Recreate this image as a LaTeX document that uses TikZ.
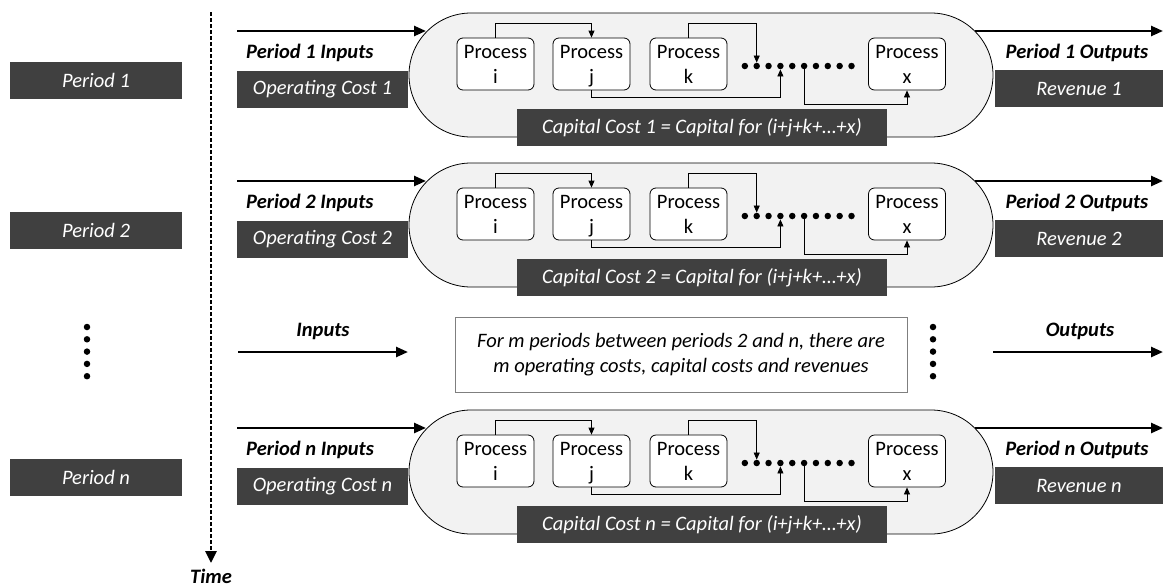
\documentclass[tikz,border=0pt]{standalone}
\usepackage{fontspec}
\setmainfont{Carlito}
\usetikzlibrary{arrows.meta}
\definecolor{boxgrey}{RGB}{64,64,64}
\definecolor{stadgrey}{RGB}{242,242,242}
\definecolor{notegrey}{RGB}{127,127,127}
\newcommand{\prstrut}{\rule[-5pt]{0pt}{23pt}}
\begin{document}
\begin{tikzpicture}[x=1pt, y=-1pt,
  every node/.style={font=\fontsize{20.5}{24}\selectfont},
  greybox/.style={fill=boxgrey, text=white, font=\fontsize{20.5}{24}\selectfont\itshape, minimum height=37pt, inner sep=0pt},
  boldlbl/.style={font=\fontsize{20.5}{24}\selectfont\bfseries\itshape, inner sep=0pt},
  stadium/.style={draw, fill=stadgrey, line width=0.8pt, rounded corners=62pt, minimum width=584pt, minimum height=124pt, inner sep=0pt},
  process/.style={draw, fill=white, line width=0.8pt, rounded corners=6pt, minimum width=77pt, minimum height=52pt, align=center, inner sep=0pt, font=\fontsize{20.5}{25}\selectfont},
  dot/.style={circle, fill, inner sep=0pt, minimum size=6.5pt},
  bigarrow/.style={line width=2.5pt, -{Triangle[length=12pt,width=10pt]}},
  link/.style={line width=0.8pt, -{Triangle[length=7pt,width=6pt]}}]
\useasboundingbox (0,0) rectangle (1163,587);
% time axis
\coordinate (tt) at (211,12);
\coordinate (tb) at (211,563);
\draw[line width=2.8pt, dash pattern=on 3.5pt off 2.5pt, -{Triangle[length=12pt,width=11pt]}] (tt) -- (tb);
\node[boldlbl] (time) at (211,576) {Time};
% one row per period
\foreach \r/\y in {1/0, 2/150, n/397}{
  \node[greybox, minimum width=172pt] (per\r) at (96,80+\y) {Period \r};
  \node[stadium] (st\r) at (701,75+\y) {};
  \coordinate (ia\r) at (237,31+\y);
  \coordinate (ib\r) at (426,31+\y);
  \draw[bigarrow] (ia\r) -- (ib\r);
  \node[boldlbl, anchor=base west] (lin\r) at (246,58+\y) {Period \r{} Inputs};
  \node[greybox, minimum width=171pt] (op\r) at (322.5,89+\y) {Operating Cost \r};
  \node[process] (pi\r) at (495.5,64+\y) {\prstrut Process\\\prstrut i};
  \node[process] (pj\r) at (591.5,64+\y) {\prstrut Process\\\prstrut j};
  \node[process] (pk\r) at (688.5,64+\y) {\prstrut Process\\\prstrut k};
  \node[process] (px\r) at (907,64+\y) {\prstrut Process\\\prstrut x};
  \foreach \k in {1,...,10}
    \node[dot] (d\r-\k) at (733+11.85*\k,66+\y) {};
  \draw[link] (pi\r.north) -- ++(0,-14) -| (pj\r.north);
  \draw[link] (pk\r.north) -- ++(0,-14) -| (d\r-2.north);
  \draw[link] (pj\r.south) -- ++(0,7) -| (d\r-4.south);
  \draw[link] (d\r-6.center) -- ++(0,38) -| (px\r.south);
  \node[greybox, minimum width=370pt] (cap\r) at (702,127.5+\y) {Capital Cost \r{} = Capital for (i+j+k+\dots+x)};
  \coordinate (oa\r) at (975,31+\y);
  \coordinate (ob\r) at (1163,31+\y);
  \draw[bigarrow] (oa\r) -- (ob\r);
  \node[boldlbl, anchor=base] (lout\r) at (1077,58+\y) {Period \r{} Outputs};
  \node[greybox, minimum width=168pt] (rev\r) at (1079,88.5+\y) {Revenue \r};
}
% the m periods in between
\foreach \k in {0,...,4}{
  \node[dot] (ld\k) at (87,327+12.3*\k) {};
  \node[dot] (rd\k) at (933,327+12.3*\k) {};
}
\coordinate (mia) at (238,352);
\coordinate (mib) at (408,352);
\draw[bigarrow] (mia) -- (mib);
\node[boldlbl] (min) at (323,331) {Inputs};
\node[draw=notegrey, line width=1pt, minimum width=452pt, minimum height=75pt, align=center, font=\fontsize{20.5}{25}\selectfont\itshape] (note) at (681,354.5)
  {For m periods between periods 2 and n, there are\\m operating costs, capital costs and revenues};
\coordinate (moa) at (993,352);
\coordinate (mob) at (1163,352);
\draw[bigarrow] (moa) -- (mob);
\node[boldlbl] (mout) at (1080,331) {Outputs};
\end{tikzpicture}
\end{document}
